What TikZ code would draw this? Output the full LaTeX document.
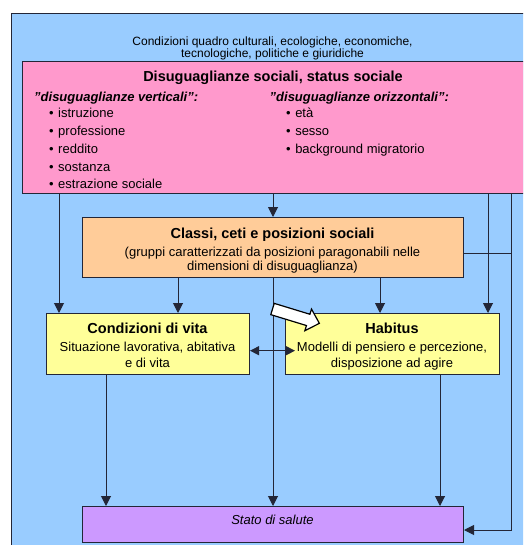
\documentclass[tikz,border=0pt]{standalone}
\usepackage{fontspec}
\setmainfont{Liberation Sans}
\usetikzlibrary{arrows.meta}

\definecolor{skyb}{HTML}{99CCFF}
\definecolor{pinkb}{HTML}{FF99CC}
\definecolor{orangeb}{HTML}{FFCC99}
\definecolor{yellowb}{HTML}{FFFF99}
\definecolor{purpleb}{HTML}{CC99FF}
\definecolor{linec}{RGB}{35,38,55}

\newcommand\fsz[1]{\fontsize{#1}{#1}\selectfont}
\newcommand\sq{\char34\relax}

\begin{document}
\begin{tikzpicture}[x=1pt,y=-1pt,
  ln/.style={draw=linec, line width=1pt},
  arr/.style={ln, -{Triangle[width=10pt,length=10pt]}},
  dblarr/.style={ln, {Triangle[width=9pt,length=9pt]}-{Triangle[width=9pt,length=9pt]}},
  box/.style={draw=linec, line width=1pt, inner sep=0pt, anchor=north west},
  txt/.style={inner sep=0pt, anchor=base, text=black},
  hd/.style={txt, font=\fsz{14.5}\bfseries},
  bd/.style={txt, font=\fsz{13}},
  sub/.style={txt, anchor=base west, font=\fsz{13}\bfseries\itshape},
  bul/.style={txt, anchor=base west, font=\fsz{13}},
  bigarrow/.style={draw=black, line width=1.2pt, fill=white, line join=miter}]

\useasboundingbox (0,0) rectangle (523,545);
\clip (0,0) rectangle (523,545);
\fill[white] (0,0) rectangle (523,545);

% outer frame: general conditions
\node[box, fill=skyb, minimum width=540pt, minimum height=560pt] (frame) at (11,13) {};
\node[txt, font=\fsz{12}] (ctx1) at (272.5,46) {Condizioni quadro culturali, ecologiche, economiche,};
\node[txt, font=\fsz{12}] (ctx2) at (272.5,58) {tecnologiche, politiche e giuridiche};

% social inequalities
\node[box, fill=pinkb, minimum width=520pt, minimum height=132pt] (ineq) at (22,61) {};
\node[hd] (ineqT) at (273,82) {Disuguaglianze sociali, status sociale};
\node[sub] (vert) at (34,101.5) {\sq disuguaglianze verticali\sq:};
\node[sub] (oriz) at (269.5,101.5) {\sq disuguaglianze orizzontali\sq:};
\foreach \t [count=\i] in {istruzione,professione,reddito,sostanza,estrazione sociale}
  \node[bul] (v\i) at (49,{117.8+17.75*(\i-1)}) {\textbullet\hspace{4.5pt}\t};
\foreach \t [count=\i] in {età,sesso,background migratorio}
  \node[bul] (o\i) at (286,{117.8+17.75*(\i-1)}) {\textbullet\hspace{4.5pt}\t};

% classes
\node[box, fill=orangeb, minimum width=381pt, minimum height=60pt] (cls) at (82,217) {};
\node[hd] (clsT) at (272.5,238) {Classi, ceti e posizioni sociali};
\node[bd] (cls1) at (272.5,256.4) {(gruppi caratterizzati da posizioni paragonabili nelle};
\node[bd] (cls2) at (272.5,270.7) {dimensioni di disuguaglianza)};

% living conditions
\node[box, fill=yellowb, minimum width=203pt, minimum height=61pt] (cond) at (46,313) {};
\node[hd] (condT) at (147.5,333) {Condizioni di vita};
\node[bd] (cond1) at (147.5,351.4) {Situazione lavorativa, abitativa};
\node[bd] (cond2) at (147.5,367) {e di vita};

% habitus
\node[box, fill=yellowb, minimum width=214pt, minimum height=61pt] (hab) at (285,313) {};
\node[hd] (habT) at (392,333) {Habitus};
\node[bd] (hab1) at (392,351.4) {Modelli di pensiero e percezione,};
\node[bd] (hab2) at (392,367) {disposizione ad agire};

% health
\node[box, fill=purpleb, minimum width=381pt, minimum height=36pt] (stato) at (82,506) {};
\node[txt, font=\fsz{13}\itshape] (statoT) at (272.5,524.7) {Stato di salute};

% connector columns and rows
\coordinate (xa) at (59,0);
\coordinate (xb) at (178,0);
\coordinate (xc) at (273,0);
\coordinate (xd) at (380,0);
\coordinate (xe) at (488,0);
\coordinate (xf) at (511,0);
\coordinate (xg) at (106,0);
\coordinate (xh) at (440,0);
\coordinate (xdbl) at (295,0);
\coordinate (yj) at (0,253);
\coordinate (ydbl) at (0,350.7);
\coordinate (ybend) at (0,530);

\draw[arr] (ineq.south -| xa) -- (cond.north -| xa);
\draw[arr] (ineq.south -| xc) -- (cls.north -| xc);
\draw[arr] (ineq.south -| xe) -- (hab.north -| xe);
\draw[arr] (ineq.south -| xf) -- (xf |- ybend) -- (stato.east |- ybend);
\draw[ln] (cls.east |- yj) -- (xf |- yj);
\draw[arr] (cls.south -| xb) -- (cond.north -| xb);
\draw[arr] (cls.south -| xd) -- (hab.north -| xd);
\draw[arr] (cls.south -| xc) -- (stato.north -| xc);
\draw[arr] (cond.south -| xg) -- (stato.north -| xg);
\draw[arr] (hab.south -| xh) -- (stato.north -| xh);
\draw[dblarr] (cond.east |- ydbl) -- (xdbl |- ydbl);

% block arrow towards the habitus
\begin{scope}[shift={(272.5,309)}, rotate=-17]
  \draw[bigarrow] (0,-5.9) -- (37.3,-5.9) -- (37.3,-11.35) -- (49,0)
    -- (37.3,11.35) -- (37.3,5.9) -- (0,5.9) -- cycle;
\end{scope}
\end{tikzpicture}
\end{document}
